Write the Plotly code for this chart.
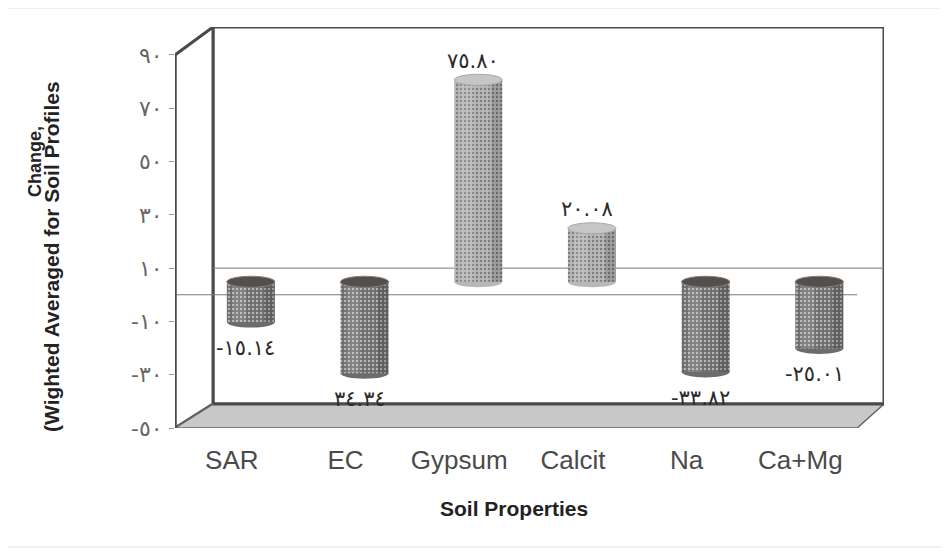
import plotly.graph_objects as go

# ---------------- data ----------------
categories = ["SAR", "EC", "Gypsum", "Calcit", "Na", "Ca+Mg"]
values = [-15.14, -34.34, 75.80, 20.08, -33.82, -25.01]
value_labels = ["-١٥.١٤", "٣٤.٣٤", "٧٥.٨٠", "٢٠.٠٨", "-٣٣.٨٢", "-٢٥.٠١"]
y_tick_values = [-50, -30, -10, 10, 30, 50, 70, 90]
y_tick_labels = ["-٥٠", "-٣٠", "-١٠", "١٠", "٣٠", "٥٠", "٧٠", "٩٠"]

# ---------------- geometry (pseudo 3-D) ----------------
OFF = 8                      # page body margin
W, H = 949 - OFF, 554 - OFF
L, T = 175 - OFF, 27 - OFF
plot_w, plot_h = 709, 401
R = W - L - plot_w
B = H - T - plot_h
x_rng = [-0.5, 5.736]
y_rng = [-50, 100.5]
px_x = plot_w / (x_rng[1] - x_rng[0])
px_y = plot_h / (y_rng[1] - y_rng[0])


def pxx(sx):   # screen x -> paper x
    return (sx - OFF - L) / plot_w


def pxy(sy):   # screen y -> paper y
    return (T + plot_h - (sy - OFF)) / plot_h


depth_dx = 38 / px_x
depth_dy = 24 / px_y
mid_dx = 19 / px_x
mid_dy = 13 / px_y

half_w = 24 / px_x
ell_h = 5.5 / px_y

x2_rng = [x_rng[0] - mid_dx, x_rng[1] - mid_dx]
y2_rng = [y_rng[0] - mid_dy, y_rng[1] - mid_dy]

idx = list(range(len(categories)))
bar_cols = ["#6c6c6c" if v < 0 else "#b8b8b8" for v in values]
pat_cols = ["#8a8a8a" if v < 0 else "#cfcfcf" for v in values]

fig = go.Figure()

# cylinder bodies
fig.add_trace(go.Bar(
    x=idx, y=values, xaxis="x2", yaxis="y2",
    width=2 * half_w, offset=-half_w,
    marker=dict(color=bar_cols, line=dict(width=0),
                pattern=dict(shape=".", fgcolor=pat_cols, size=4, solidity=0.3)),
    hoverinfo="skip", showlegend=False,
))
# cylinder shading: light band on the left, shadow on the right
fig.add_trace(go.Bar(
    x=idx, y=values, xaxis="x2", yaxis="y2",
    width=0.55 * half_w, offset=-0.75 * half_w,
    marker=dict(color="rgba(255,255,255,0.13)", line=dict(width=0)),
    hoverinfo="skip", showlegend=False,
))
fig.add_trace(go.Bar(
    x=idx, y=values, xaxis="x2", yaxis="y2",
    width=0.45 * half_w, offset=0.55 * half_w,
    marker=dict(color="rgba(0,0,0,0.14)", line=dict(width=0)),
    hoverinfo="skip", showlegend=False,
))

shapes = []
front_l, front_r = x_rng[0], 5.5
back_l, back_r = x_rng[0] + depth_dx, x_rng[1]
floor_y, back_floor_y = y_rng[0], y_rng[0] + depth_dy
frame = "#4a4a4a"

shapes.append(dict(type="rect", xref="x", yref="y", x0=back_l, x1=back_r,
                   y0=back_floor_y, y1=y_rng[1], fillcolor="white",
                   line=dict(color=frame, width=3), layer="below"))
shapes.append(dict(type="path", xref="x", yref="y",
                   path=f"M {front_l},{floor_y} L {front_l},90 L {back_l},{y_rng[1]} L {back_l},{back_floor_y} Z",
                   fillcolor="white", line=dict(color=frame, width=3), layer="below"))
shapes.append(dict(type="path", xref="x", yref="y",
                   path=f"M {front_l},{floor_y} L {front_r},{floor_y} L {back_r},{back_floor_y} L {back_l},{back_floor_y} Z",
                   fillcolor="#c8c8c8", line=dict(color="#666", width=1.5), layer="below"))
shapes.append(dict(type="line", xref="x", yref="y", x0=back_l, x1=back_r,
                   y0=back_floor_y, y1=back_floor_y, line=dict(color=frame, width=3), layer="below"))
shapes.append(dict(type="line", xref="x", yref="y", x0=front_l, x1=front_r, y0=0, y1=0,
                   line=dict(color="#7a7a7a", width=1), layer="below"))
shapes.append(dict(type="line", xref="x", yref="y", x0=back_l, x1=back_r, y0=10, y1=10,
                   line=dict(color="#7a7a7a", width=1), layer="below"))
shapes.append(dict(type="line", xref="x", yref="y", x0=front_l, x1=front_l, y0=floor_y, y1=90,
                   line=dict(color=frame, width=3), layer="above"))

for i, v in enumerate(values):
    top = max(v, 0)
    bot = min(v, 0)
    shapes.append(dict(type="circle", xref="x2", yref="y2",
                       x0=i - half_w, x1=i + half_w, y0=bot - ell_h, y1=bot + ell_h,
                       fillcolor=bar_cols[i], line=dict(width=0), layer="below"))
    cap = "#505050" if v < 0 else "#c6c6c6"
    edge = "#8d7a68" if v < 0 else "#a8a8a8"
    shapes.append(dict(type="circle", xref="x2", yref="y2",
                       x0=i - half_w, x1=i + half_w, y0=top - ell_h, y1=top + ell_h,
                       fillcolor=cap, line=dict(color=edge, width=1), layer="above"))

# faint scan frame lines
shapes.append(dict(type="line", xref="paper", yref="paper", x0=pxx(0), x1=pxx(949),
                   y0=pxy(8), y1=pxy(8), line=dict(color="#e4e4e4", width=1)))
shapes.append(dict(type="line", xref="paper", yref="paper", x0=pxx(0), x1=pxx(949),
                   y0=pxy(547), y1=pxy(547), line=dict(color="#e4e4e4", width=1)))

annotations = []
for i, (v, lab) in enumerate(zip(values, value_labels)):
    annotations.append(dict(x=i, y=v, xref="x2", yref="y2", text=lab, showarrow=False,
                            xshift=-5, yshift=(19 if v > 0 else -26),
                            font=dict(family="DejaVu Sans", size=21, color="#2b2b2b")))

annotations.append(dict(xref="paper", yref="paper", x=pxx(35), y=pxy(162),
                        xanchor="center", yanchor="middle",
                        text="<b>Change,</b>", textangle=-90, showarrow=False,
                        font=dict(family="Liberation Sans", size=18, color="#222")))
annotations.append(dict(xref="paper", yref="paper", x=pxx(51), y=pxy(257),
                        xanchor="center", yanchor="middle",
                        text="<b>(Wighted Averaged for Soil Profiles</b>", textangle=-90, showarrow=False,
                        font=dict(family="Liberation Sans", size=21, color="#222")))
annotations.append(dict(xref="paper", yref="paper", x=pxx(514), y=pxy(508),
                        xanchor="center", yanchor="middle",
                        text="<b>Soil Properties</b>", showarrow=False,
                        font=dict(family="Liberation Sans", size=21, color="#222")))

fig.update_layout(
    width=W, height=H, autosize=False,
    margin=dict(l=L, r=R, t=T, b=B, pad=0),
    paper_bgcolor="white", plot_bgcolor="rgba(0,0,0,0)",
    shapes=shapes, annotations=annotations,
    barmode="overlay",
    xaxis=dict(range=x_rng, tickmode="array", tickvals=idx, ticktext=categories,
               showgrid=False, zeroline=False, showline=False, ticks="",
               ticklabelstandoff=14,
               tickfont=dict(family="Liberation Sans", size=26, color="#4a4a4a")),
    yaxis=dict(range=y_rng, tickmode="array", tickvals=y_tick_values, ticktext=y_tick_labels,
               showgrid=False, zeroline=False, showline=False, ticks="outside", ticklen=5,
               tickcolor="#999", ticklabelstandoff=2,
               tickfont=dict(family="DejaVu Sans", size=22, color="#666")),
    xaxis2=dict(range=x2_rng, overlaying="x", visible=False),
    yaxis2=dict(range=y2_rng, overlaying="y", visible=False),
)

fig.write_html("out.html")
